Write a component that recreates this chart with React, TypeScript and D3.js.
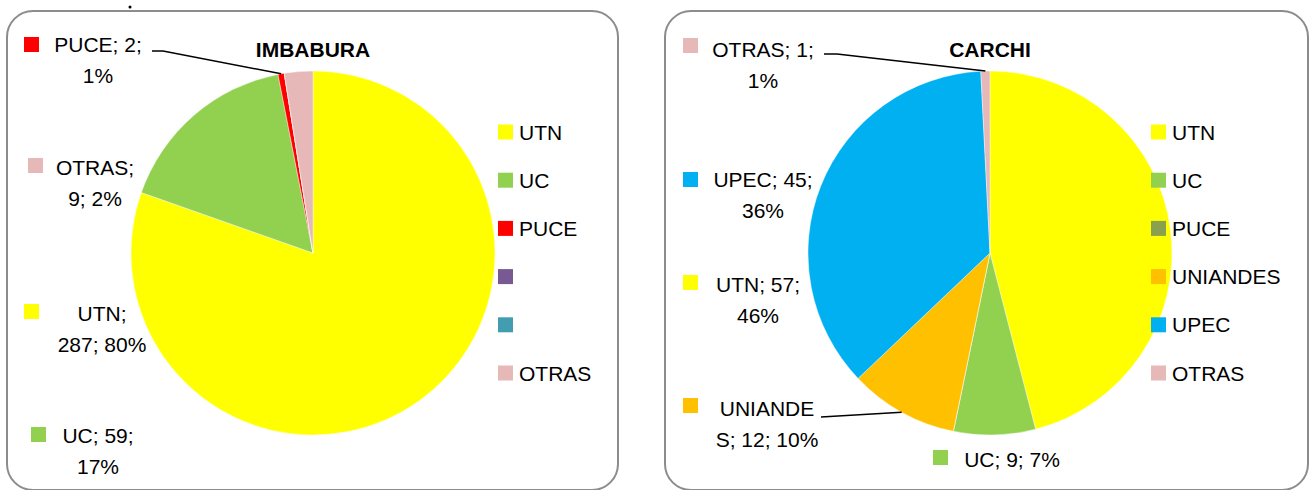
import React from "react";
import * as d3 from "d3";

// Imbabura
const imbCategories = ["UTN", "UC", "PUCE", "", "", "OTRAS"];
const imbValues = [287, 59, 2, 0, 0, 9];
const imbColors = ["#FFFF00", "#92D050", "#FF0000", "#775A93", "#439DB0", "#E6B9B8"];
const imbLabels = [["UTN;", "287; 80%"], ["UC; 59;", "17%"], ["PUCE; 2;", "1%"], null, null, ["OTRAS;", "9; 2%"]];

// Carchi
const carCategories = ["UTN", "UC", "PUCE", "UNIANDES", "UPEC", "OTRAS"];
const carValues = [57, 9, 0, 12, 45, 1];
const carColors = ["#FFFF00", "#92D050", "#89A04F", "#FFC000", "#00B0F0", "#E6B9B8"];
const carLabels = [["UTN; 57;", "46%"], ["UC; 9; 7%"], null, ["UNIANDE", "S; 12; 10%"], ["UPEC; 45;", "36%"], ["OTRAS; 1;", "1%"]];

// label placement (text centre, first baseline, key square, optional leader start)
type Place = { cx: number; y: number; mx: number; my: number; leader?: [number, number][] };
const imbPlaces: (Place | null)[] = [
  { cx: 102, y: 321, mx: 24, my: 304 },
  { cx: 98, y: 443, mx: 31, my: 427 },
  { cx: 98, y: 52, mx: 24, my: 37, leader: [[152, 51], [163, 51]] },
  null,
  null,
  { cx: 95, y: 175, mx: 28, my: 158 },
];
const carPlaces: (Place | null)[] = [
  { cx: 758, y: 292, mx: 683, my: 275 },
  { cx: 1012, y: 467, mx: 933, my: 450 },
  null,
  { cx: 767, y: 416, mx: 683, my: 398, leader: [[821, 417]] },
  { cx: 763, y: 187, mx: 683, my: 172 },
  { cx: 763, y: 57, mx: 683, my: 38, leader: [[824, 54], [837, 54]] },
];

const FONT = "'Liberation Sans', Arial, sans-serif";
const R = 182;

function PiePanel(props: {
  x: number; w: number; title: string; cx: number; cy: number;
  categories: string[]; values: number[]; colors: string[];
  labels: (string[] | null)[]; places: (Place | null)[]; legendX: number;
}) {
  const { x, w, title, cx, cy, categories, values, colors, labels, places, legendX } = props;
  const pie = d3.pie<number>().sort(null).value((d) => d).startAngle(0).endAngle(2 * Math.PI);
  const arcs = pie(values);
  const arc = d3.arc<d3.PieArcDatum<number>>().innerRadius(0).outerRadius(R);
  const legendY = d3.scalePoint<number>().domain(d3.range(categories.length)).range([132, 373]);

  return (
    <g>
      <rect x={x} y={11} width={w} height={479} rx={26} ry={26} fill="#fff" stroke="#8c8c8c" strokeWidth={2} />
      <text x={cx} y={57} textAnchor="middle" fontFamily={FONT} fontWeight="bold" fontSize={21}>{title}</text>
      <g transform={`translate(${cx},${cy})`}>
        {arcs.map((a, i) => (
          <path key={i} d={arc(a) || ""} fill={colors[i]} stroke="#fff" strokeWidth={0.4} />
        ))}
      </g>
      {categories.map((c, i) => (
        <g key={i}>
          <rect x={legendX} y={legendY(i)! - 7.5} width={15} height={15} fill={colors[i]} />
          <text x={legendX + 21} y={legendY(i)! + 7.5} fontFamily={FONT} fontSize={21}>{c}</text>
        </g>
      ))}
      {arcs.map((a, i) => {
        const p = places[i];
        const lines = labels[i];
        if (!p || !lines) return null;
        const mid = (a.startAngle + a.endAngle) / 2;
        const end: [number, number] = [cx + R * Math.sin(mid), cy - R * Math.cos(mid)];
        return (
          <g key={i}>
            {p.leader && (
              <path d={d3.line()([...p.leader, end]) || ""} fill="none" stroke="#000" strokeWidth={1.5} />
            )}
            <rect x={p.mx} y={p.my} width={15} height={15} fill={colors[i]} />
            {lines.map((l, j) => (
              <text key={j} x={p.cx} y={p.y + j * 31} textAnchor="middle" fontFamily={FONT} fontSize={21}>{l}</text>
            ))}
          </g>
        );
      })}
    </g>
  );
}

export default function App() {
  return (
    <div style={{ position: "absolute", left: 0, top: 0 }}>
      <svg width={1312} height={490} style={{ display: "block" }}>
        <rect width={1312} height={490} fill="#fff" />
        <circle cx={130} cy={7} r={1.5} fill="#000" />
        <PiePanel x={7} w={611} title="IMBABURA" cx={313} cy={253}
          categories={imbCategories} values={imbValues} colors={imbColors}
          labels={imbLabels} places={imbPlaces} legendX={498} />
        <PiePanel x={665} w={643} title="CARCHI" cx={990} cy={253}
          categories={carCategories} values={carValues} colors={carColors}
          labels={carLabels} places={carPlaces} legendX={1151} />
      </svg>
    </div>
  );
}
